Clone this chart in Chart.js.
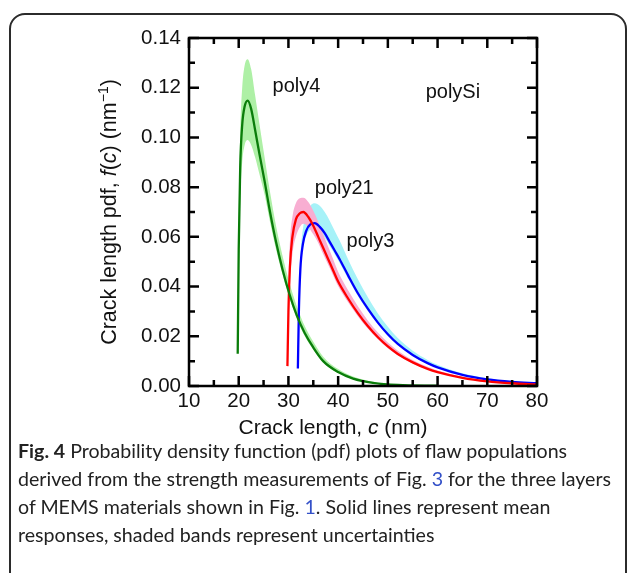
<!DOCTYPE html>
<html>
<head>
<meta charset="utf-8">
<script src="https://cdn.jsdelivr.net/npm/chart.js@4.4.1/dist/chart.umd.min.js"></script>
<style>
  html, body { margin: 0; padding: 0; background: #fff; width: 629px; height: 573px; overflow: hidden; }
  #frame { position: absolute; left: 9px; top: 13px; width: 618px; height: 600px; border: 2px solid #2b2b2b; border-radius: 16px; box-sizing: border-box; }
  #chart { position: absolute; left: 0; top: 0; }
  #caption { position: absolute; left: 18px; top: 437px; font-family: Lato, sans-serif; font-size: 19.6px; line-height: 28px; color: #222; white-space: nowrap; }
  .ref { color: #3350c8; }
</style>
</head>
<body>
<div id="frame"></div>
<canvas id="chart" width="629" height="440"></canvas>
<div id="caption"><b>Fig. 4</b> Probability density function (pdf) plots of flaw populations<br>derived from the strength measurements of Fig. <span class="ref">3</span> for the three layers<br>of MEMS materials shown in Fig. <span class="ref">1</span>. Solid lines represent mean<br>responses, shaded bands represent uncertainties</div>
<script>
// crack length (nm) and pdf values
const poly4X     = [19.8, 20.0, 20.3, 20.7, 21.2, 21.8, 22.5, 23.3, 24.2, 25.2, 26.3, 27.5, 28.8, 30.2, 31.7, 33.3, 35.0, 37.0, 40.0, 43.0, 47.0, 52.0, 60.0];
const poly4Mean  = [0.013, 0.055, 0.088, 0.105, 0.1125, 0.1148, 0.1115, 0.103, 0.093, 0.0825, 0.070, 0.058, 0.047, 0.037, 0.0283, 0.0212, 0.0155, 0.010, 0.0056, 0.003, 0.0013, 0.0004, 0.0001];
const poly4Upper = [0.020, 0.068, 0.102, 0.120, 0.129, 0.1315, 0.1275, 0.117, 0.105, 0.092, 0.078, 0.0645, 0.0525, 0.0415, 0.032, 0.024, 0.0178, 0.0118, 0.0068, 0.0038, 0.0017, 0.0006, 0.0001];
const poly4Lower = [0.010, 0.042, 0.074, 0.090, 0.097, 0.099, 0.097, 0.092, 0.085, 0.077, 0.066, 0.055, 0.045, 0.0355, 0.027, 0.020, 0.0146, 0.0094, 0.0052, 0.0028, 0.0012, 0.0003, 0.0001];

const poly21X     = [29.8, 30.0, 30.3, 30.8, 31.5, 32.3, 33.0, 34.0, 35.0, 36.0, 37.0, 38.0, 39.0, 40.0, 42.0, 44.0, 46.0, 48.0, 50.0, 52.0, 55.0, 58.0, 60.0, 65.0, 70.0, 75.0, 80.0];
const poly21Mean  = [0.008, 0.030, 0.048, 0.060, 0.067, 0.0695, 0.0700, 0.068, 0.0645, 0.060, 0.0555, 0.051, 0.0465, 0.042, 0.0352, 0.0292, 0.024, 0.0196, 0.0159, 0.0129, 0.0095, 0.0069, 0.0056, 0.0033, 0.0019, 0.0011, 0.0006];
const poly21Upper = [0.010, 0.040, 0.058, 0.068, 0.0735, 0.0755, 0.0757, 0.074, 0.0705, 0.066, 0.061, 0.056, 0.051, 0.046, 0.0385, 0.032, 0.0263, 0.0215, 0.0175, 0.0142, 0.0105, 0.0077, 0.0062, 0.0037, 0.0021, 0.0012, 0.0007];
const poly21Lower = [0.006, 0.022, 0.040, 0.053, 0.060, 0.064, 0.0653, 0.064, 0.061, 0.0575, 0.053, 0.0488, 0.0445, 0.0402, 0.0337, 0.028, 0.023, 0.0188, 0.0152, 0.0124, 0.0091, 0.0066, 0.0054, 0.0031, 0.0018, 0.001, 0.0005];

const poly3X     = [31.9, 32.1, 32.4, 32.9, 33.6, 34.4, 35.3, 36.3, 37.3, 38.3, 39.3, 40.3, 42.0, 44.0, 46.0, 48.0, 50.0, 52.0, 55.0, 58.0, 60.0, 65.0, 70.0, 75.0, 80.0];
const poly3Mean  = [0.007, 0.030, 0.047, 0.057, 0.0625, 0.065, 0.0655, 0.064, 0.0615, 0.058, 0.0545, 0.051, 0.0445, 0.0372, 0.031, 0.0255, 0.0208, 0.0169, 0.0125, 0.0092, 0.0075, 0.0045, 0.0027, 0.0017, 0.0011];
const poly3Upper = [0.008, 0.034, 0.052, 0.063, 0.069, 0.0725, 0.0735, 0.0725, 0.070, 0.0665, 0.0625, 0.0585, 0.051, 0.0428, 0.0356, 0.0292, 0.0238, 0.0193, 0.0142, 0.0105, 0.0085, 0.0051, 0.0031, 0.0019, 0.0013];
const poly3Lower = [0.006, 0.028, 0.045, 0.055, 0.0605, 0.063, 0.0635, 0.062, 0.0597, 0.0563, 0.053, 0.0495, 0.0432, 0.0361, 0.0301, 0.0248, 0.0202, 0.0164, 0.0121, 0.0089, 0.0073, 0.0044, 0.0026, 0.0016, 0.001];

const xMajor = [10, 20, 30, 40, 50, 60, 70, 80];
const xMinor = [15, 25, 35, 45, 55, 65, 75];
const yMajor = [0, 0.02, 0.04, 0.06, 0.08, 0.10, 0.12, 0.14];
const yMinor = [0.01, 0.03, 0.05, 0.07, 0.09, 0.11, 0.13];

const curveLabels = [
  { text: 'poly4', x: 26.8, y: 0.1183 },
  { text: 'polySi', x: 57.6, y: 0.116 },
  { text: 'poly21', x: 35.3, y: 0.0774 },
  { text: 'poly3', x: 41.7, y: 0.0559 }
];

const FONT = '"Liberation Sans", Arial, sans-serif';

const pts = (xs, ys) => xs.map((x, i) => ({ x: x, y: ys[i] }));

const line = (xs, ys, color) => ({
  data: pts(xs, ys), showLine: true, borderColor: color, borderWidth: 2.3,
  pointRadius: 0, cubicInterpolationMode: 'monotone', fill: false, order: 0
});
const band = (xs, ys, color, fill) => ({
  data: pts(xs, ys), showLine: true, borderColor: 'rgba(0,0,0,0)', borderWidth: 0,
  backgroundColor: color, pointRadius: 0, cubicInterpolationMode: 'monotone', fill: fill, order: 1
});

const datasets = [
  line(poly4X, poly4Mean, '#0a7d0a'),
  line(poly21X, poly21Mean, '#ff0000'),
  line(poly3X, poly3Mean, '#0000ff'),
  band(poly4X, poly4Upper, '#aef0a6', '+1'),
  band(poly4X, poly4Lower, '#aef0a6', false),
  band(poly21X, poly21Upper, '#f8aed2', '+1'),
  band(poly21X, poly21Lower, '#f8aed2', false),
  band(poly3X, poly3Upper, '#a6f2f8', '+1'),
  band(poly3X, poly3Lower, '#a6f2f8', false)
];

function drawPieces(ctx, pieces, size) {
  let total = 0;
  pieces.forEach(p => {
    ctx.font = (p.i ? 'italic ' : '') + (p.sup ? size * 0.65 : size) + 'px ' + FONT;
    p.w = ctx.measureText(p.t).width;
    total += p.w;
  });
  let x = -total / 2;
  pieces.forEach(p => {
    ctx.font = (p.i ? 'italic ' : '') + (p.sup ? size * 0.65 : size) + 'px ' + FONT;
    ctx.fillText(p.t, x, p.sup ? -size * 0.38 : 0);
    x += p.w;
  });
}

const framePlugin = {
  id: 'frame',
  afterDraw(chart) {
    const ctx = chart.ctx;
    const a = chart.chartArea;
    const xs = chart.scales.x, ys = chart.scales.y;
    ctx.save();
    ctx.strokeStyle = '#000';
    ctx.lineWidth = 2.5;
    ctx.strokeRect(a.left, a.top, a.right - a.left, a.bottom - a.top);
    ctx.beginPath();
    const tick = (v, len, isX) => {
      if (isX) {
        const p = xs.getPixelForValue(v);
        ctx.moveTo(p, a.bottom); ctx.lineTo(p, a.bottom - len);
        ctx.moveTo(p, a.top); ctx.lineTo(p, a.top + len);
      } else {
        const p = ys.getPixelForValue(v);
        ctx.moveTo(a.left, p); ctx.lineTo(a.left + len, p);
        ctx.moveTo(a.right, p); ctx.lineTo(a.right - len, p);
      }
    };
    xMajor.forEach(v => tick(v, 10, true));
    xMinor.forEach(v => tick(v, 6, true));
    yMajor.forEach(v => tick(v, 10, false));
    yMinor.forEach(v => tick(v, 6, false));
    ctx.stroke();

    ctx.fillStyle = '#111';
    ctx.textBaseline = 'alphabetic';
    ctx.textAlign = 'left';
    ctx.font = '20px ' + FONT;
    curveLabels.forEach(l => {
      ctx.fillText(l.text, xs.getPixelForValue(l.x), ys.getPixelForValue(l.y));
    });

    // axis titles
    ctx.save();
    ctx.translate(333, 434);
    drawPieces(ctx, [{ t: 'Crack length, ' }, { t: 'c', i: true }, { t: ' (nm)' }], 21);
    ctx.restore();
    ctx.save();
    ctx.translate(116, (a.top + a.bottom) / 2);
    ctx.rotate(-Math.PI / 2);
    drawPieces(ctx, [{ t: 'Crack length pdf, ' }, { t: 'f', i: true }, { t: '(' }, { t: 'c', i: true }, { t: ') (nm' }, { t: '\u22121', sup: true }, { t: ')' }], 21.5);
    ctx.restore();
    ctx.restore();
  }
};

new Chart(document.getElementById('chart').getContext('2d'), {
  type: 'scatter',
  data: { datasets: datasets },
  options: {
    responsive: false,
    animation: false,
    layout: { padding: { left: 0, right: 92, top: 38, bottom: 0 } },
    plugins: { legend: { display: false }, tooltip: { enabled: false } },
    scales: {
      x: {
        type: 'linear', min: 10, max: 80,
        afterBuildTicks: s => { s.ticks = xMajor.map(v => ({ value: v })); },
        ticks: { font: { family: FONT, size: 20.5 }, color: '#111', padding: 3, maxRotation: 0 },
        grid: { display: false, drawTicks: false },
        border: { display: false },
        afterFit: s => { s.height = 54; }
      },
      y: {
        type: 'linear', min: 0, max: 0.14,
        afterBuildTicks: s => { s.ticks = yMajor.map(v => ({ value: v })); },
        ticks: { font: { family: FONT, size: 20.5 }, color: '#111', padding: 8, callback: v => v.toFixed(2) },
        grid: { display: false, drawTicks: false },
        border: { display: false },
        afterFit: s => { s.width = 189; }
      }
    }
  },
  plugins: [framePlugin]
});
</script>
</body>
</html>
